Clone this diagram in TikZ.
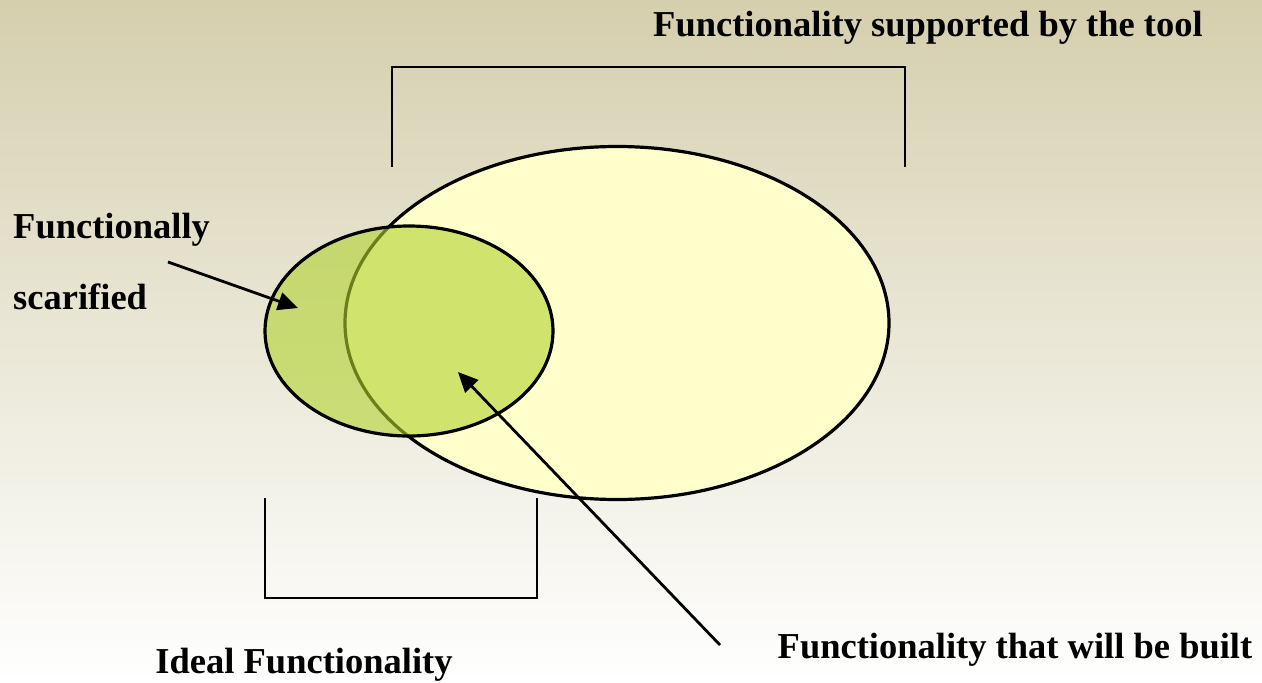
\documentclass[tikz,border=0pt]{standalone}
\usepackage{fontspec}
\setmainfont{Liberation Serif}
\usetikzlibrary{arrows.meta,shapes.geometric}
\definecolor{bgtop}{RGB}{213,207,174}
\definecolor{tooly}{RGB}{255,255,204}
\definecolor{idealg}{RGB}{177,210,47}
\tikzset{
  x=1pt, y=-1pt,
  outline/.style={draw=black, line width=3.2pt},
  bracket/.style={draw=black, line width=2.8pt},
  pointer/.style={draw=black, line width=2.8pt, -{Triangle[length=20pt,width=18pt]}},
  label/.style={font=\bfseries\fontsize{36.5}{40}\selectfont, inner sep=0pt}
}
\begin{document}
\begin{tikzpicture}
% background
\shade[top color=bgtop, bottom color=white] (0,0) rectangle (1262,683);
\useasboundingbox (0,0) rectangle (1262,683);

% supported functionality and ideal functionality
\node[outline, fill=tooly, ellipse, minimum width=544pt, minimum height=353pt, inner sep=0pt] (tool) at (617,323) {};
\path[fill=idealg, fill opacity=0.6] (409,331) ellipse [x radius=144, y radius=105];
\node[outline, ellipse, minimum width=288pt, minimum height=210pt, inner sep=0pt] (ideal) at (409,331) {};

% brackets
\coordinate (tl) at (392,167); \coordinate (tr) at (905,167);
\draw[bracket] (tl) -- (392,67) -- (905,67) -- (tr);
\coordinate (bl) at (265,498); \coordinate (br) at (537,498);
\draw[bracket] (bl) -- (265,598) -- (537,598) -- (br);

% labels
\node[label] (ltool) at (928,28) {Functionality supported by the tool};
\node[label, anchor=west] (lfun) at (13,230) {Functionally};
\node[label, anchor=west] (lscar) at (13,297) {scarified};
\node[label] (lideal) at (304,665) {Ideal Functionality};
\node[label] (lbuilt) at (1015,650) {Functionality that will be built};

% pointers
\coordinate (sacr) at (168,262);
\coordinate (sacrtip) at (298,308);
\draw[pointer] (sacr) -- (sacrtip);
\coordinate (built) at (720,645);
\coordinate (builttip) at (458,372);
\draw[pointer] (built) -- (builttip);
\end{tikzpicture}
\end{document}
